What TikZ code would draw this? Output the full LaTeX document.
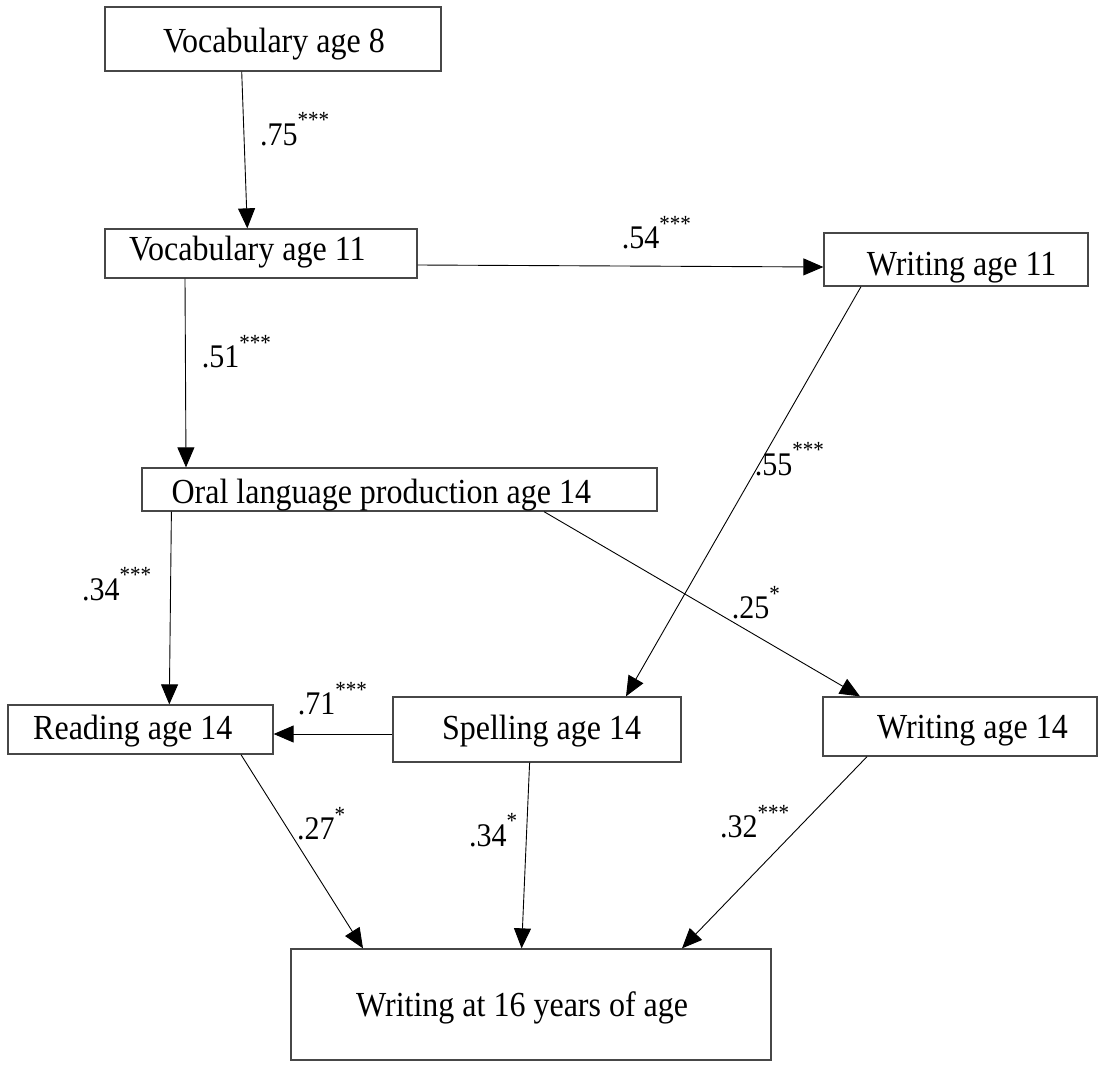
\documentclass[tikz,border=0pt]{standalone}
\usepackage{graphicx}
\usepackage{fontspec}
\setmainfont{Liberation Serif}
\usetikzlibrary{arrows.meta}
\newcommand{\tx}[1]{\scalebox{1}[1.1]{\fontsize{32}{38}\selectfont #1}}
\newcommand{\coef}[2]{\scalebox{1}[1.1]{{\fontsize{30}{36}\selectfont #1}\raisebox{15.5pt}{\fontsize{21}{24}\selectfont #2}}}
\begin{document}
\begin{tikzpicture}[x=1pt,y=-1pt,
  boxnode/.style={draw=black!72,line width=1.3pt,inner sep=0pt,rectangle},
  txt/.style={inner sep=0pt,anchor=base west},
  coeflab/.style={inner sep=0pt,anchor=base west},
  arr/.style={-{Triangle[length=20pt,width=17pt]},line width=0.9pt,black}]
\useasboundingbox[fill=white] (0,0) rectangle (1099,1070);
% boxes
\node[boxnode,minimum width=336pt,minimum height=64pt] (v8) at (273,39) {};
\node[boxnode,minimum width=312pt,minimum height=49pt] (v11) at (261,253.5) {};
\node[boxnode,minimum width=264pt,minimum height=53pt] (w11) at (956,259.5) {};
\node[boxnode,minimum width=515pt,minimum height=43pt] (oral) at (399.5,489.5) {};
\node[boxnode,minimum width=265pt,minimum height=49pt] (read) at (140.5,729.5) {};
\node[boxnode,minimum width=288pt,minimum height=65pt] (spell) at (537,729.5) {};
\node[boxnode,minimum width=274pt,minimum height=59pt] (w14) at (960,726.5) {};
\node[boxnode,minimum width=480pt,minimum height=111pt] (w16) at (531,1004.5) {};
% texts
\node[txt] (v8t) at (163,53) {\tx{Vocabulary age 8}};
\node[txt] (v11t) at (129,260) {\tx{Vocabulary age 11}};
\node[txt] (w11t) at (866.7,275) {\tx{Writing age 11}};
\node[txt] (oralt) at (171.4,503) {\tx{Oral language production age 14}};
\node[txt] (readt) at (33,739) {\tx{Reading age 14}};
\node[txt] (spellt) at (441.8,739) {\tx{Spelling age 14}};
\node[txt] (w14t) at (877,738) {\tx{Writing age 14}};
\node[txt] (w16t) at (356,1016) {\tx{Writing at 16 years of age}};
% connectors
\draw[arr] ([xshift=-31.3pt]v8.south) -- ([xshift=-13.7pt]v11.north);
\draw[arr] ([yshift=-11.5pt]v11.east) -- ([yshift=-7.5pt]w11.west);
\draw[arr] ([xshift=-76pt]v11.south) -- ([xshift=-213.5pt]oral.north);
\draw[arr] ([xshift=-95pt]w11.south) -- ([xshift=89pt]spell.north);
\draw[arr] ([xshift=-228.1pt]oral.south) -- ([xshift=28.8pt]read.north);
\draw[arr] ([xshift=144.5pt]oral.south) -- ([xshift=-100pt]w14.north);
\draw[arr] ([yshift=-4.5pt]spell.west) -- ([yshift=-4.5pt]read.east);
\draw[arr] ([xshift=100.5pt]read.south) -- ([xshift=-168pt]w16.north);
\draw[arr] ([xshift=-7.4pt]spell.south) -- ([xshift=-9.4pt]w16.north);
\draw[arr] ([xshift=-93pt]w14.south) -- ([xshift=151pt]w16.north);
% coefficients
\node[coeflab] (c1) at (260,145) {\coef{.75}{***}};
\node[coeflab] (c2) at (621.6,248.3) {\coef{.54}{***}};
\node[coeflab] (c3) at (201.7,367.3) {\coef{.51}{***}};
\node[coeflab] (c4) at (754.6,475) {\coef{.55}{***}};
\node[coeflab] (c5) at (82,600) {\coef{.34}{***}};
\node[coeflab] (c6) at (731.6,618.7) {\coef{.25}{*}};
\node[coeflab] (c7) at (297.7,714.5) {\coef{.71}{***}};
\node[coeflab] (c8) at (297,839.3) {\coef{.27}{*}};
\node[coeflab] (c9) at (469,846) {\coef{.34}{*}};
\node[coeflab] (c10) at (720,837.7) {\coef{.32}{***}};
\end{tikzpicture}
\end{document}
